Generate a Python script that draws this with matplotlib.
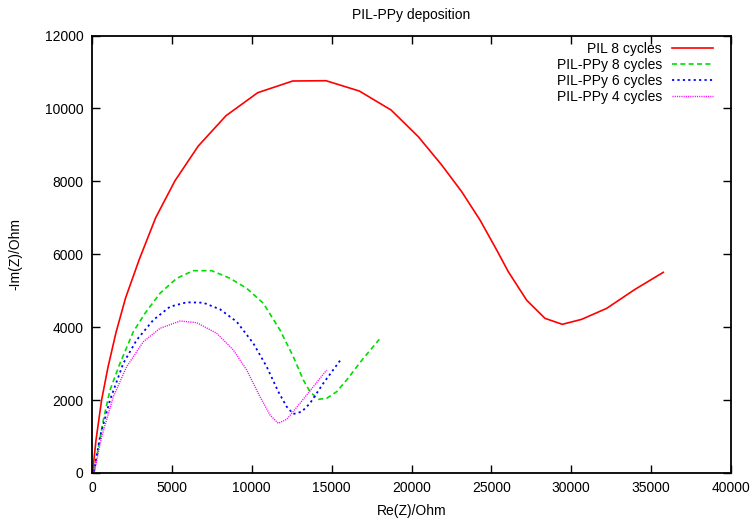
import numpy as np
import matplotlib
matplotlib.use("Agg")
import matplotlib.pyplot as plt

plt.rcParams['font.family'] = ['Liberation Sans', 'DejaVu Sans']
plt.rcParams['font.size'] = 10

# PIL 8 cycles
pil8_re = [50, 250, 600, 1000, 1500, 2100, 2961, 3987, 5196, 6654, 8388, 10372, 12563,
           14648, 16732, 18723, 20426, 21890, 23142, 24288, 25333, 26060, 27210,
           28357, 29440, 30653, 32218, 33990, 35762]
pil8_im = [60, 900, 2000, 2900, 3850, 4800, 5861, 7003, 8017, 8969, 9800, 10431, 10752,
           10760, 10477, 9956, 9224, 8448, 7716, 6939, 6116, 5521, 4739,
           4242, 4078, 4215, 4516, 5037, 5504]

# PIL-PPy 8 cycles
ppy8_re = [125, 710, 1127, 1753, 2587, 3318, 4257, 5300, 6343, 7490, 8640, 9684,
           10727, 11768, 12603, 13228, 13646, 14168, 14690, 15316, 15942, 16985, 17985]
ppy8_im = [36, 1454, 2276, 3009, 3876, 4380, 4929, 5340, 5549, 5549, 5340, 5066,
           4654, 3922, 3190, 2551, 2230, 2021, 2048, 2230, 2551, 3145, 3667]

# PIL-PPy 6 cycles
ppy6_re = [125, 500, 1127, 1961, 2796, 3838, 4883, 5926, 6967, 8013, 9058, 10097,
           10936, 11662, 12188, 12601, 13127, 13646, 14479, 15631]
ppy6_im = [36, 996, 2002, 3009, 3648, 4196, 4562, 4682, 4671, 4490, 4150, 3557,
           2916, 2230, 1818, 1618, 1681, 1912, 2460, 3145]

# PIL-PPy 4 cycles
ppy4_re = [150, 607, 1335, 2170, 3213, 4257, 5509, 6554, 7805, 8846, 9684, 10517,
           11142, 11662, 12188, 13020, 13853, 14690]
ppy4_im = [36, 996, 2093, 2916, 3601, 3968, 4169, 4123, 3832, 3374, 2825, 2093,
           1591, 1363, 1473, 1912, 2367, 2825]

fig = plt.figure(figsize=(7.56, 5.18), dpi=100)
ax = fig.add_axes([92/756, 1-473/518, (731-92)/756, (473-35.5)/518])

ax.plot(pil8_re, pil8_im, color='#ff0000', lw=1.2, ls='-', label='PIL 8 cycles')
ax.plot(ppy8_re, ppy8_im, color='#00dd00', lw=1.2, ls=(0, (3, 2)), label='PIL-PPy 8 cycles')
ax.plot(ppy6_re, ppy6_im, color='#0000ff', lw=1.3, ls=(0, (1.2, 1.8)), label='PIL-PPy 6 cycles')
ax.plot(ppy4_re, ppy4_im, color='#ff00ff', lw=1.0, ls=(0, (0.8, 0.8)), label='PIL-PPy 4 cycles')

ax.set_xlim(0, 40000)
ax.set_ylim(0, 12000)
ax.set_xticks(np.arange(0, 40001, 5000))
ax.set_yticks(np.arange(0, 12001, 2000))
ax.tick_params(direction='in', length=6, width=1, top=True, right=True, labelsize=10, pad=6)
for s in ax.spines.values():
    s.set_linewidth(1.3)

ax.set_xlabel('Re(Z)/Ohm', labelpad=6)
ax.set_ylabel('-Im(Z)/Ohm', labelpad=16)
ax.set_title('PIL-PPy deposition', fontsize=10, pad=12)

leg = ax.legend(loc='upper right', frameon=False, markerfirst=False,
                handlelength=3.0, handletextpad=0.7, labelspacing=0.15,
                borderaxespad=0, fontsize=10,
                bbox_to_anchor=(1 - 12/639, 1 - 0.5/437.5))

fig.savefig('out.png', dpi=100)
